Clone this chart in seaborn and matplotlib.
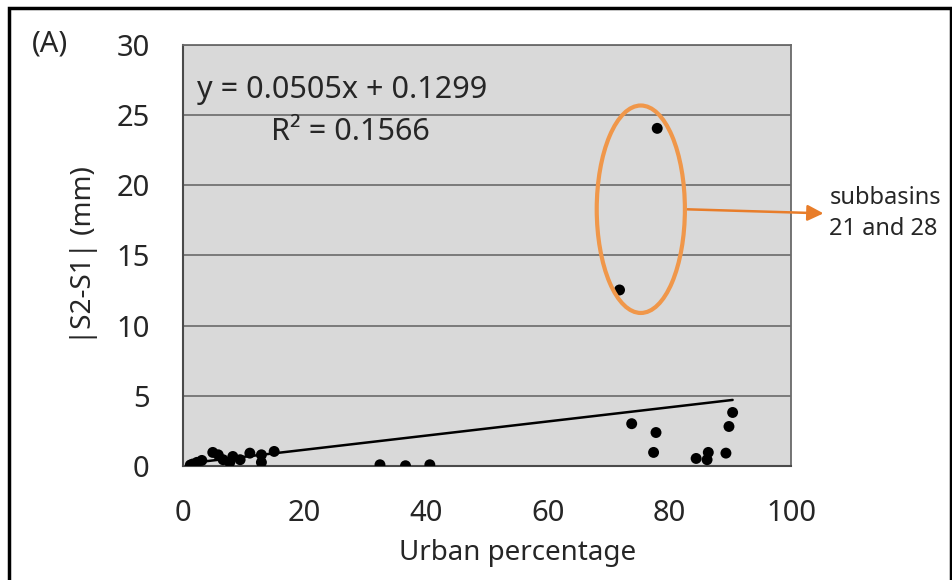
import matplotlib
matplotlib.use("Agg")
import matplotlib.pyplot as plt
import numpy as np
import pandas as pd
import seaborn as sns
from matplotlib.patches import Ellipse, Rectangle

# values
urban_pct = [1.2, 1.6, 2.3, 3.1, 4.9, 5.8, 6.6, 7.7, 8.2, 9.4, 11.0, 12.9, 12.9, 15.0,
             32.4, 36.6, 40.6,
             71.8, 78.0,
             73.8, 77.8, 77.4, 84.4, 86.4, 86.2, 89.3, 89.8, 90.4]
diff_mm = [0.05, 0.12, 0.24, 0.38, 0.95, 0.78, 0.43, 0.24, 0.66, 0.43, 0.90, 0.78, 0.24, 1.02,
           0.07, 0.0, 0.07,
           12.54, 24.07,
           3.0, 2.37, 0.95, 0.52, 0.95, 0.43, 0.9, 2.8, 3.8]
slope = 0.0505
intercept = 0.1299
r_squared = 0.1566
x_ticks = [0, 20, 40, 60, 80, 100]
y_ticks = [0, 5, 10, 15, 20, 25, 30]

df = pd.DataFrame({"Urban percentage": urban_pct, "diff": diff_mm})

sns.set_style("white")
plt.rcParams["font.family"] = ["Noto Sans", "DejaVu Sans"]

fig = plt.figure(figsize=(9.53, 5.8), dpi=100)
ax = fig.add_axes([0.192, 0.197, 0.638, 0.725])
ax.set_facecolor("#d9d9d9")

sns.scatterplot(data=df, x="Urban percentage", y="diff", color="black", s=62,
                edgecolor="none", ax=ax, zorder=3)

# linear trendline over the data range
xs = np.array([min(urban_pct), max(urban_pct)])
sns.lineplot(x=xs, y=slope * xs + intercept, color="black", linewidth=1.8, ax=ax, zorder=2)

ax.set_xlim(0, 100)
ax.set_ylim(0, 30)
ax.set_xticks(x_ticks)
ax.set_yticks(y_ticks)
ax.tick_params(labelsize=21, length=0)
ax.tick_params(axis="x", pad=24)
ax.tick_params(axis="y", pad=24)
ax.yaxis.grid(True, color="#6a6a6a", linewidth=1.2)
ax.set_axisbelow(True)
for side in ["top", "right"]:
    ax.spines[side].set_color("#6a6a6a")
    ax.spines[side].set_linewidth(1.3)
for side in ["left", "bottom"]:
    ax.spines[side].set_color("#4a4a4a")
    ax.spines[side].set_linewidth(1.5)

ax.set_xlabel("Urban percentage", fontsize=20)
ax.xaxis.set_label_coords(0.551, -0.207)
ax.xaxis.label.set_verticalalignment("center")
ax.set_ylabel("|S2-S1| (mm)", fontsize=20)
ax.yaxis.set_label_coords(-0.163, 0.5)
ax.yaxis.label.set_verticalalignment("center")

ax.text(2.3, 26.8, f"y = {slope}x + {intercept}", fontsize=22, va="center", ha="left")
ax.text(27.5, 23.8, f"R² = {r_squared}", fontsize=22, va="center", ha="center")

# highlight the two outliers
ax.add_patch(Ellipse((75.3, 18.3), 14.5, 14.8, fill=False, edgecolor="#f0974a",
                     linewidth=3, zorder=4))
ax.annotate("", xy=(105.8, 18.0), xytext=(82.5, 18.3),
            arrowprops=dict(arrowstyle="-|>", color="#e87d2a", lw=1.8, mutation_scale=24),
            annotation_clip=False)
ax.text(106.3, 18.0, "subbasins\n21 and 28", fontsize=17, va="center", ha="left",
        linespacing=1.4)

fig.text(0.052, 0.924, "(A)", fontsize=21, va="center", ha="center")
fig.patches.append(Rectangle((9 / 953, -0.05), 942 / 953, 1.05 - 8 / 580,
                             transform=fig.transFigure, fill=False,
                             edgecolor="black", linewidth=2.5))

fig.savefig("out.png", dpi=100)
